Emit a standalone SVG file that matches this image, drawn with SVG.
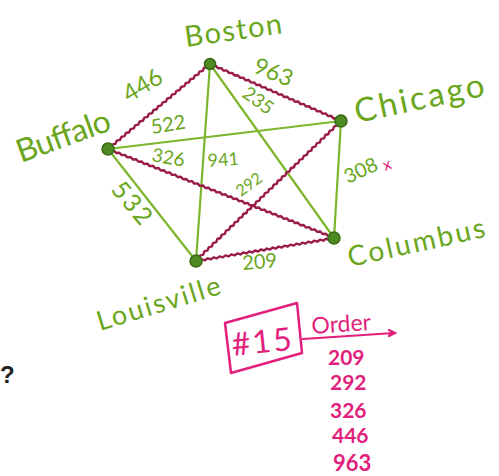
<svg xmlns="http://www.w3.org/2000/svg" width="499" height="476" viewBox="0 0 499 476">
<style>
.g{stroke:#7db52c;stroke-width:2.2;fill:none;stroke-linecap:round}
.r{stroke:#9a1c48;stroke-width:2.4;fill:none;stroke-linejoin:round}
.t{font-family:"Lato","Open Sans",sans-serif;fill:#6aa61c}
.p{font-family:"Lato","Open Sans",sans-serif;fill:#e21f7c}
.n{fill:#4d8a22;stroke:#3a6a17;stroke-width:1.5}
</style>
<rect width="499" height="476" fill="#fff"/>
<g id="connectors">
<line class="g" x1="210" y1="64" x2="196" y2="261"/>
<line class="g" x1="210" y1="64" x2="334" y2="238"/>
<line class="g" x1="108" y1="149" x2="341" y2="121"/>
<line class="g" x1="341" y1="121" x2="334" y2="238"/>
<line class="g" x1="108" y1="149" x2="196" y2="261"/>
<path class="r" d="M107.5,148.4 l3.26,-0.77 1.34,-3.07 3.26,-0.77 1.34,-3.07 3.26,-0.77 1.34,-3.07 3.26,-0.77 1.34,-3.07 3.26,-0.77 1.34,-3.07
3.26,-0.77 1.34,-3.07 3.26,-0.77 1.34,-3.07 3.26,-0.77 1.34,-3.07 3.26,-0.77 1.34,-3.07 3.26,-0.77 1.34,-3.07
3.26,-0.77 1.34,-3.07 3.26,-0.77 1.34,-3.07 3.26,-0.77 1.34,-3.07 3.26,-0.77 1.34,-3.07 3.26,-0.77 1.34,-3.07
3.26,-0.77 1.34,-3.07 3.26,-0.77 1.34,-3.07 3.26,-0.77 1.34,-3.07 3.26,-0.77 1.34,-3.07 3.26,-0.77 1.34,-3.07
3.26,-0.77 1.34,-3.07 3.26,-0.77 1.34,-3.07 L210,64"/>
<path class="r" d="M210.3,63.3 l2.15,2.57 3.35,-0.18 2.15,2.57 3.35,-0.18 2.15,2.57 3.35,-0.18 2.15,2.57 3.35,-0.18 2.15,2.57 3.35,-0.18
2.15,2.57 3.35,-0.18 2.15,2.57 3.35,-0.18 2.15,2.57 3.35,-0.18 2.15,2.57 3.35,-0.18 2.15,2.57 3.35,-0.18
2.15,2.57 3.35,-0.18 2.15,2.57 3.35,-0.18 2.15,2.57 3.35,-0.18 2.15,2.57 3.35,-0.18 2.15,2.57 3.35,-0.18
2.15,2.57 3.35,-0.18 2.15,2.57 3.35,-0.18 2.15,2.57 3.35,-0.18 2.15,2.57 3.35,-0.18 2.15,2.57 3.35,-0.18
2.15,2.57 3.35,-0.18 2.15,2.57 3.35,-0.18 2.15,2.57 3.35,-0.18 L341,121"/>
<path class="r" d="M341.5,121.5 l-3.2,1 -1.12,3.16 -3.2,1 -1.12,3.16 -3.2,1 -1.12,3.16 -3.2,1 -1.12,3.16 -3.2,1 -1.12,3.16
-3.2,1 -1.12,3.16 -3.2,1 -1.12,3.16 -3.2,1 -1.12,3.16 -3.2,1 -1.12,3.16 -3.2,1 -1.12,3.16
-3.2,1 -1.12,3.16 -3.2,1 -1.12,3.16 -3.2,1 -1.12,3.16 -3.2,1 -1.12,3.16 -3.2,1 -1.12,3.16
-3.2,1 -1.12,3.16 -3.2,1 -1.12,3.16 -3.2,1 -1.12,3.16 -3.2,1 -1.12,3.16 -3.2,1 -1.12,3.16
-3.2,1 -1.12,3.16 -3.2,1 -1.12,3.16 -3.2,1 -1.12,3.16 -3.2,1 -1.12,3.16 -3.2,1 -1.12,3.16
-3.2,1 -1.12,3.16 -3.2,1 -1.12,3.16 -3.2,1 -1.12,3.16 -3.2,1 -1.12,3.16 -3.2,1 -1.12,3.16
-3.2,1 -1.12,3.16 -3.2,1 -1.12,3.16 -3.2,1 -1.12,3.16 L196,261"/>
<path class="r" d="M108.3,148.3 l2.24,2.49 3.34,-0.3 2.24,2.49 3.34,-0.3 2.24,2.49 3.34,-0.3 2.24,2.49 3.34,-0.3 2.24,2.49 3.34,-0.3
2.24,2.49 3.34,-0.3 2.24,2.49 3.34,-0.3 2.24,2.49 3.34,-0.3 2.24,2.49 3.34,-0.3 2.24,2.49 3.34,-0.3
2.24,2.49 3.34,-0.3 2.24,2.49 3.34,-0.3 2.24,2.49 3.34,-0.3 2.24,2.49 3.34,-0.3 2.24,2.49 3.34,-0.3
2.24,2.49 3.34,-0.3 2.24,2.49 3.34,-0.3 2.24,2.49 3.34,-0.3 2.24,2.49 3.34,-0.3 2.24,2.49 3.34,-0.3
2.24,2.49 3.34,-0.3 2.24,2.49 3.34,-0.3 2.24,2.49 3.34,-0.3 2.24,2.49 3.34,-0.3 2.24,2.49 3.34,-0.3
2.24,2.49 3.34,-0.3 2.24,2.49 3.34,-0.3 2.24,2.49 3.34,-0.3 2.24,2.49 3.34,-0.3 2.24,2.49 3.34,-0.3
2.24,2.49 3.34,-0.3 2.24,2.49 3.34,-0.3 2.24,2.49 3.34,-0.3 2.24,2.49 3.34,-0.3 2.24,2.49 3.34,-0.3
2.24,2.49 3.34,-0.3 2.24,2.49 3.34,-0.3 2.24,2.49 3.34,-0.3 2.24,2.49 3.34,-0.3 2.24,2.49 3.34,-0.3 L334,238"/>
<path class="r" d="M195.9,260.3 l3.2,0.99 2.71,-1.97 3.2,0.99 2.71,-1.97 3.2,0.99 2.71,-1.97 3.2,0.99 2.71,-1.97 3.2,0.99 2.71,-1.97
3.2,0.99 2.71,-1.97 3.2,0.99 2.71,-1.97 3.2,0.99 2.71,-1.97 3.2,0.99 2.71,-1.97 3.2,0.99 2.71,-1.97
3.2,0.99 2.71,-1.97 3.2,0.99 2.71,-1.97 3.2,0.99 2.71,-1.97 3.2,0.99 2.71,-1.97 3.2,0.99 2.71,-1.97
3.2,0.99 2.71,-1.97 3.2,0.99 2.71,-1.97 3.2,0.99 2.71,-1.97 3.2,0.99 2.71,-1.97 3.2,0.99 2.71,-1.97
3.2,0.99 2.71,-1.97 3.2,0.99 2.71,-1.97 3.2,0.99 2.71,-1.97 L334,238"/>
<text class="t" font-size="24" transform="translate(129,103) rotate(-31)">446</text>
<text class="t" font-size="23" transform="translate(252,72) rotate(22)">963</text>
<text class="t" font-size="19" transform="translate(241,96) rotate(36)">235</text>
<text class="t" font-size="20" transform="translate(152,134) rotate(-9)">522</text>
<text class="t" font-size="19" transform="translate(151,161) rotate(10)">326</text>
<text class="t" font-size="18" transform="translate(208,167) rotate(-4)">941</text>
<text class="t" font-size="16" transform="translate(241,197) rotate(-36)">292</text>
<text class="t" font-size="20" transform="translate(348,184) rotate(-25)">308</text>
<text class="p" font-size="16" transform="translate(385,171) rotate(-20)">x</text>
<text class="t" font-size="25" textLength="48" lengthAdjust="spacing" transform="translate(110,190) rotate(50)">532</text>
<text class="t" font-size="20" transform="translate(243,270) rotate(-5)">209</text>
</g>
<g id="boston">
<circle class="n" cx="210" cy="64" r="5.5" fill="#4a4a1a"/>
<text class="t" font-size="29" textLength="98" lengthAdjust="spacing" transform="translate(186,47) rotate(-8)">Boston</text>
</g>
<g id="chicago">
<circle class="n" cx="341" cy="121" r="6"/>
<text class="t" font-size="33" textLength="132" lengthAdjust="spacing" transform="translate(357,123) rotate(-12)">Chicago</text>
</g>
<g id="buffalo">
<circle class="n" cx="108" cy="149" r="6"/>
<text class="t" font-size="32" textLength="98" lengthAdjust="spacing" transform="translate(21,163) rotate(-20)">Buffalo</text>
</g>
<g id="columbus">
<circle class="n" cx="334" cy="238" r="6"/>
<text class="t" font-size="28" textLength="140" lengthAdjust="spacing" transform="translate(350,267) rotate(-12.5)">Columbus</text>
</g>
<g id="louisville">
<circle class="n" cx="196" cy="261" r="6"/>
<text class="t" font-size="27" textLength="128" lengthAdjust="spacing" transform="translate(100,331) rotate(-17)">Louisville</text>
</g>
<g id="order">
<path d="M225,323 L297,303 L302,353 L231,373 Z" fill="none" stroke="#e21f7c" stroke-width="2.5" stroke-linejoin="round"/>
<text class="p" font-size="32" textLength="60" lengthAdjust="spacing" transform="translate(233,356) rotate(-6)">#15</text>
<text class="p" font-size="23" transform="translate(312,334) rotate(-4)">Order</text>
<path d="M303,339 L394,333 M389,330 L395,333 L389,336" fill="none" stroke="#e21f7c" stroke-width="2.2" stroke-linecap="round"/>
<text class="p" font-size="21" font-weight="bold" x="328" y="365">209</text>
<text class="p" font-size="21" font-weight="bold" x="330" y="390">292</text>
<text class="p" font-size="21" font-weight="bold" x="330" y="418">326</text>
<text class="p" font-size="21" font-weight="bold" x="332" y="443">446</text>
<text class="p" font-size="22" font-weight="bold" x="333" y="471">963</text>
</g>
<text x="0" y="383" font-family="Liberation Sans, sans-serif" font-size="24" font-weight="bold" fill="#222">?</text>
</svg>
